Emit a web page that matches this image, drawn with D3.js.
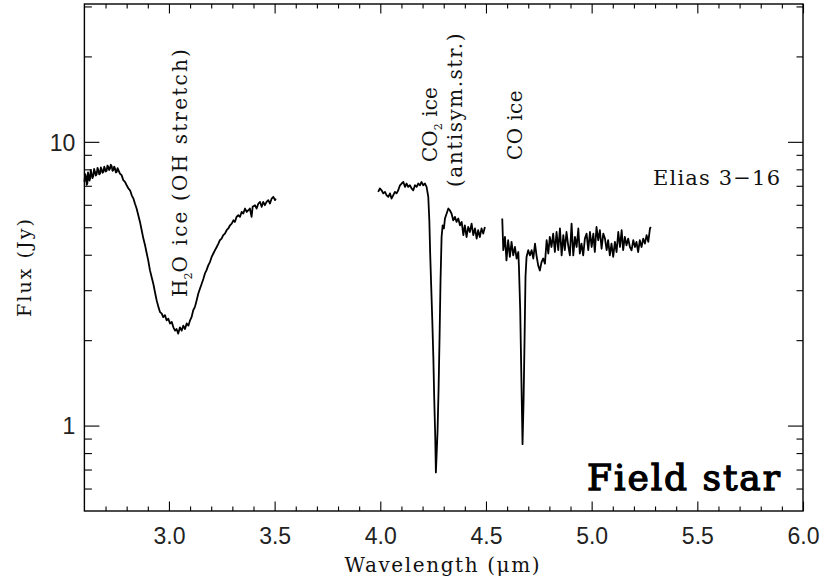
<!DOCTYPE html>
<html>
<head>
<meta charset="utf-8">
<script src="https://cdn.jsdelivr.net/npm/d3@7"></script>
<style>
  body { margin: 0; background: #fff; }
  svg { display: block; }
</style>
</head>
<body>
<svg id="chart" width="822" height="581"></svg>
<script>
// Elias 3-16 spectrum, [wavelength (um), flux (Jy)], three observed segments
const h2oSegment = [
  [2.600,7.23],[2.604,7.70],[2.608,7.53],[2.611,7.05],[2.614,7.13],[2.617,7.80],[2.620,7.63],
  [2.624,7.30],[2.627,7.42],[2.630,7.95],[2.634,7.73],[2.638,7.45],[2.642,7.57],[2.646,8.02],
  [2.650,7.84],[2.654,7.60],[2.658,7.69],[2.662,8.10],[2.666,7.95],[2.670,7.68],[2.674,7.73],
  [2.678,8.12],[2.682,7.99],[2.686,7.78],[2.690,7.84],[2.694,8.18],[2.697,8.05],[2.701,7.86],
  [2.705,7.90],[2.709,8.25],[2.713,8.16],[2.717,7.95],[2.721,8.05],[2.725,8.30],[2.729,8.21],
  [2.733,7.90],[2.737,7.95],[2.741,8.18],[2.745,8.05],[2.749,7.80],[2.753,7.84],[2.757,8.08],
  [2.761,7.95],[2.768,7.73],[2.776,7.63],[2.784,7.33],[2.792,7.23],[2.800,7.03],[2.808,6.85],
  [2.816,6.75],[2.824,6.48],[2.832,6.31],[2.839,6.06],[2.847,5.82],[2.855,5.51],[2.863,5.22],
  [2.871,4.88],[2.879,4.56],[2.887,4.32],[2.895,4.04],[2.902,3.82],[2.910,3.53],[2.918,3.34],
  [2.926,3.16],[2.934,2.95],[2.942,2.76],[2.950,2.62],[2.958,2.51],[2.966,2.48],[2.973,2.41],
  [2.981,2.45],[2.989,2.35],[2.997,2.38],[3.005,2.29],[3.013,2.32],[3.021,2.22],[3.029,2.16],
  [3.036,2.19],[3.044,2.11],[3.052,2.22],[3.060,2.16],[3.068,2.25],[3.076,2.19],[3.084,2.29],
  [3.092,2.25],[3.100,2.35],[3.107,2.41],[3.115,2.55],[3.123,2.62],[3.131,2.76],[3.139,2.92],
  [3.147,3.04],[3.155,3.16],[3.163,3.29],[3.170,3.43],[3.178,3.53],[3.186,3.67],[3.194,3.77],
  [3.202,3.93],[3.210,4.04],[3.218,4.15],[3.226,4.26],[3.234,4.38],[3.241,4.50],[3.249,4.56],
  [3.257,4.69],[3.265,4.75],[3.273,4.88],[3.281,4.95],[3.289,5.08],[3.297,5.15],[3.305,5.29],
  [3.312,5.22],[3.320,5.44],[3.328,5.51],[3.336,5.44],[3.344,5.66],[3.352,5.59],[3.360,5.82],
  [3.368,5.66],[3.376,5.74],[3.383,5.82],[3.391,5.44],[3.396,5.90],[3.407,5.98],[3.415,5.82],
  [3.423,6.06],[3.431,6.14],[3.439,5.90],[3.446,6.14],[3.454,5.98],[3.462,6.14],[3.470,6.23],
  [3.478,6.06],[3.486,6.31],[3.494,6.40],[3.502,6.23],[3.506,6.31]
];

const co2Segment = [
  [3.990,6.66],[3.998,6.85],[4.006,6.75],[4.014,6.58],[4.022,6.66],[4.030,6.48],[4.038,6.40],
  [4.046,6.58],[4.053,6.31],[4.061,6.48],[4.069,6.66],[4.077,6.58],[4.085,6.75],[4.093,7.03],
  [4.101,7.13],[4.109,7.22],[4.117,6.94],[4.124,7.13],[4.132,6.94],[4.140,7.03],[4.148,6.85],
  [4.156,6.75],[4.164,7.03],[4.172,6.94],[4.180,7.13],[4.188,7.03],[4.195,7.22],[4.203,7.03],
  [4.211,7.13],[4.219,6.94],[4.227,6.40],[4.232,5.29],[4.236,4.04],[4.241,3.08],[4.246,2.35],
  [4.251,1.74],[4.255,1.26],[4.260,0.91],[4.263,0.684],[4.266,0.773],[4.271,0.96],[4.276,1.37],
  [4.281,2.16],[4.285,3.25],[4.290,4.62],[4.295,5.08],[4.301,4.95],[4.306,5.37],[4.314,5.59],
  [4.322,5.82],[4.329,5.74],[4.337,5.59],[4.345,5.29],[4.353,5.44],[4.361,5.22],[4.369,5.37],
  [4.377,5.08],[4.385,5.22],[4.393,4.69],[4.400,5.08],[4.408,4.62],[4.416,5.01],[4.424,4.81],
  [4.432,5.15],[4.440,4.69],[4.448,4.95],[4.456,4.56],[4.463,4.88],[4.471,4.62],[4.479,4.95],
  [4.487,4.75],[4.495,5.01]
];

const coSegment = [
  [4.577,5.37],[4.582,4.15],[4.590,4.62],[4.597,3.82],[4.605,4.50],[4.613,3.93],[4.621,4.44],
  [4.629,3.98],[4.637,4.26],[4.645,3.88],[4.653,4.09],[4.656,3.62],[4.662,2.55],[4.668,1.40],
  [4.673,0.86],[4.678,1.23],[4.683,2.11],[4.687,3.34],[4.692,3.93],[4.700,4.15],[4.708,3.98],
  [4.716,4.15],[4.724,3.88],[4.732,4.38],[4.739,3.98],[4.747,3.67],[4.755,3.52],[4.763,3.77],
  [4.771,3.88],[4.779,3.72],[4.787,4.50],[4.795,4.04],[4.802,4.62],[4.810,4.26],[4.818,4.75],
  [4.826,4.09],[4.834,4.81],[4.842,4.15],[4.850,4.95],[4.858,3.98],[4.866,4.69],[4.873,4.15],
  [4.881,4.81],[4.889,4.32],[4.897,3.98],[4.905,5.15],[4.913,3.98],[4.921,4.62],[4.929,4.26],
  [4.937,4.95],[4.944,4.04],[4.952,4.38],[4.960,3.98],[4.968,4.56],[4.976,4.75],[4.984,4.15],
  [4.992,4.81],[5.000,4.26],[5.008,4.75],[5.015,4.09],[5.023,5.01],[5.031,4.50],[5.039,4.88],
  [5.047,4.20],[5.055,4.75],[5.063,4.56],[5.071,4.15],[5.078,4.50],[5.086,3.98],[5.094,4.38],
  [5.102,3.93],[5.110,4.44],[5.118,4.09],[5.126,4.81],[5.134,4.26],[5.142,4.88],[5.149,4.15],
  [5.157,4.62],[5.165,4.32],[5.173,4.56],[5.181,4.26],[5.189,4.15],[5.197,4.50],[5.205,4.26],
  [5.212,4.44],[5.220,4.09],[5.228,4.50],[5.236,4.26],[5.244,4.56],[5.252,4.38],[5.260,4.69],
  [5.268,4.44],[5.276,4.95],[5.280,5.01]
];

// Axis ranges and labelled ticks
const xDomain = [2.6, 6.0];
const yDomain = [0.5, 30.6];
const xMajorTicks = [3.0, 3.5, 4.0, 4.5, 5.0, 5.5, 6.0];
const yMajorTicks = [1, 10];

const svg = d3.select("#chart");
const plotLeft = 84.4, plotRight = 803, plotTop = 4, plotBottom = 511;

const x = d3.scaleLinear().domain(xDomain).range([plotLeft, plotRight]);
const y = d3.scaleLog().domain(yDomain).range([plotBottom, plotTop]);

const isMajorX = v => xMajorTicks.some(t => Math.abs(t - v) < 1e-6);
const isMajorY = v => yMajorTicks.some(t => Math.abs(t - v) < 1e-9);
const xMinor = x.ticks(34).filter(v => !isMajorX(v) && v > xDomain[0] + 1e-6 && v < xDomain[1] - 1e-6);
const yMinor = y.ticks().filter(v => !isMajorY(v) && v > yDomain[0] * 1.001 && v < yDomain[1]);

const axisStyle = g => {
  g.select(".domain").remove();
  g.selectAll(".tick line").attr("stroke", "#000").attr("stroke-width", 1.1);
};

// bottom axis: major with labels, minor without
svg.append("g").attr("transform", `translate(0,${plotBottom})`)
  .call(d3.axisBottom(x).tickValues(xMajorTicks).tickSizeInner(-9.5).tickSizeOuter(0)
    .tickPadding(0).tickFormat(d3.format(".1f")))
  .call(axisStyle)
  .call(g => g.selectAll(".tick text")
    .attr("y", 33).attr("dy", null)
    .attr("font-family", "'Liberation Sans', Arial, sans-serif")
    .attr("font-size", 23).attr("fill", "#222"));
svg.append("g").attr("transform", `translate(0,${plotBottom})`)
  .call(d3.axisBottom(x).tickValues(xMinor).tickSizeInner(-4.5).tickSizeOuter(0).tickFormat(""))
  .call(axisStyle);

// top axis
svg.append("g").attr("transform", `translate(0,${plotTop})`)
  .call(d3.axisTop(x).tickValues(xMajorTicks).tickSizeInner(-9.5).tickSizeOuter(0).tickFormat(""))
  .call(axisStyle);
svg.append("g").attr("transform", `translate(0,${plotTop})`)
  .call(d3.axisTop(x).tickValues(xMinor).tickSizeInner(-4.5).tickSizeOuter(0).tickFormat(""))
  .call(axisStyle);

// left axis
svg.append("g").attr("transform", `translate(${plotLeft},0)`)
  .call(d3.axisLeft(y).tickValues(yMajorTicks).tickSizeInner(-15).tickSizeOuter(0)
    .tickPadding(0).tickFormat(d3.format("d")))
  .call(axisStyle)
  .call(g => g.selectAll(".tick text")
    .attr("x", -9).attr("dy", "0.36em")
    .attr("font-family", "'Liberation Sans', Arial, sans-serif")
    .attr("font-size", 23).attr("fill", "#222"));
svg.append("g").attr("transform", `translate(${plotLeft},0)`)
  .call(d3.axisLeft(y).tickValues(yMinor).tickSizeInner(-7.5).tickSizeOuter(0).tickFormat(""))
  .call(axisStyle);

// right axis
svg.append("g").attr("transform", `translate(${plotRight},0)`)
  .call(d3.axisRight(y).tickValues(yMajorTicks).tickSizeInner(-15).tickSizeOuter(0).tickFormat(""))
  .call(axisStyle);
svg.append("g").attr("transform", `translate(${plotRight},0)`)
  .call(d3.axisRight(y).tickValues(yMinor).tickSizeInner(-6.5).tickSizeOuter(0).tickFormat(""))
  .call(axisStyle);

// plot frame
svg.append("rect")
  .attr("x", plotLeft).attr("y", plotTop)
  .attr("width", plotRight - plotLeft).attr("height", plotBottom - plotTop)
  .attr("fill", "none").attr("stroke", "#000").attr("stroke-width", 1.4);

// spectrum segments
const line = d3.line().x(d => x(d[0])).y(d => y(d[1]));
[h2oSegment, co2Segment, coSegment].forEach(seg => {
  svg.append("path")
    .datum(seg)
    .attr("d", line)
    .attr("fill", "none")
    .attr("stroke", "#000")
    .attr("stroke-width", 1.8)
    .attr("stroke-linejoin", "round");
});

const serif = "'DejaVu Serif', 'Liberation Serif', serif";

// axis titles
svg.append("text")
  .attr("x", 442).attr("y", 572)
  .attr("text-anchor", "middle")
  .attr("font-family", serif).attr("font-size", 20).attr("fill", "#111")
  .attr("textLength", 195).attr("lengthAdjust", "spacing")
  .text("Wavelength (\u03BCm)");

svg.append("text")
  .attr("transform", "translate(31,268) rotate(-90)")
  .attr("text-anchor", "middle")
  .attr("font-family", serif).attr("font-size", 19).attr("fill", "#111")
  .attr("textLength", 98).attr("lengthAdjust", "spacing")
  .text("Flux (Jy)");

// rotated feature labels; extra spacing goes only into the plain-text parts
function vlabel(xb, yc, len, parts) {
  const t = svg.append("text")
    .attr("transform", `translate(${xb},${yc}) rotate(-90)`)
    .attr("text-anchor", "middle")
    .attr("font-family", serif).attr("font-size", 20).attr("fill", "#111");
  const spans = parts.map(p => {
    const s = t.append("tspan").text(p.t);
    if (p.sub) s.attr("font-size", 11).attr("dy", 5);
    if (p.up) s.attr("dy", -5);
    return {s, p};
  });
  const natural = t.node().getComputedTextLength();
  const stretch = spans.filter(d => !d.p.sub && d.p.t.length > 2);
  const nChars = d3.sum(stretch, d => d.p.t.length);
  const ls = Math.max(0, (len - natural) / nChars);
  stretch.forEach(d => d.s.attr("letter-spacing", ls));
}
vlabel(187, 172, 250, [{t: "H"}, {t: "2", sub: true}, {t: "O ice (OH stretch)", up: true}]);
vlabel(437, 124.5, 75, [{t: "CO"}, {t: "2", sub: true}, {t: " ice", up: true}]);
vlabel(462, 109.5, 155, [{t: "(antisym.str.)"}]);
vlabel(522, 125, 70, [{t: "CO ice"}]);

svg.append("text")
  .attr("x", 653).attr("y", 185)
  .attr("font-family", serif).attr("font-size", 21).attr("fill", "#111")
  .attr("textLength", 127).attr("lengthAdjust", "spacing")
  .text("Elias 3\u221216");

svg.append("text")
  .attr("x", 587).attr("y", 490)
  .attr("font-family", serif).attr("font-size", 36)
  .attr("stroke", "#000").attr("stroke-width", 1.3)
  .attr("textLength", 193).attr("lengthAdjust", "spacing")
  .text("Field star");
</script>
</body>
</html>
